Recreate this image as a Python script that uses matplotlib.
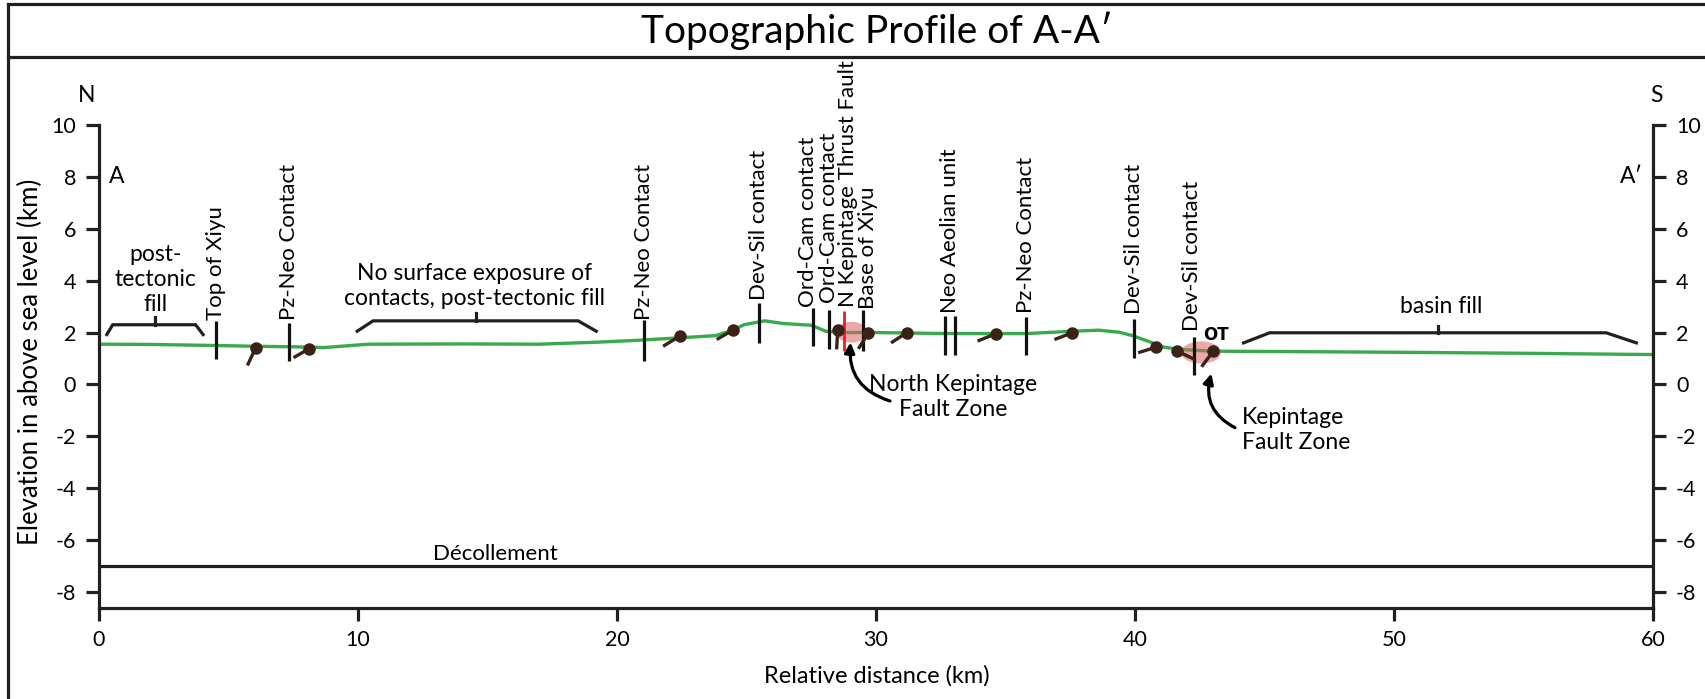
import matplotlib
matplotlib.use("Agg")
import matplotlib.pyplot as plt
from matplotlib.patches import Ellipse
from matplotlib.lines import Line2D

plt.rcParams['font.family'] = ['Lato', 'DejaVu Sans']
plt.rcParams['axes.unicode_minus'] = False

# ---------------- data ----------------
profile_x = [0, 2, 4.5, 6, 7.5, 8.7, 10.4, 14, 17, 19.3, 20.8, 22.5, 23.8, 24.5, 24.9,
             25.7, 26.4, 27.0, 27.5, 28.06, 28.7, 29.9, 32.7, 35.8, 37.6, 38.6, 39.4,
             39.9, 40.6, 41.1, 41.7, 43.0, 45, 50, 55, 60]
profile_y = [1.55, 1.54, 1.5, 1.47, 1.45, 1.42, 1.55, 1.56, 1.55, 1.63, 1.7, 1.8, 1.88, 2.1, 2.3,
             2.45, 2.35, 2.31, 2.28, 2.05, 2.0, 2.0, 1.96, 1.96, 2.05, 2.09, 2.01,
             1.88, 1.63, 1.44, 1.35, 1.28, 1.27, 1.24, 1.2, 1.15]

contact_x = [4.52, 7.33, 21.04, 25.47, 27.55, 28.2, 29.49, 32.67, 33.05, 35.8, 39.96, 42.29]
contact_top = [2.43, 2.37, 2.5, 3.15, 2.95, 2.86, 2.88, 2.63, 2.63, 2.58, 2.53, 1.83]
contact_bot = [0.96, 0.9, 0.9, 1.6, 1.47, 1.35, 1.28, 1.12, 1.12, 1.12, 1.03, 0.35]

fault_x = [28.77]
fault_top = [2.82]
fault_bot = [1.28]

label_text = ["Top of Xiyu", "Pz-Neo Contact", "Pz-Neo Contact", "Dev-Sil contact",
              "Ord-Cam contact", "Ord-Cam contact", "N Kepintage Thrust Fault",
              "Base of Xiyu", "Neo Aeolian unit", "Pz-Neo Contact",
              "Dev-Sil contact", "Dev-Sil contact"]
label_x = [4.52, 7.33, 21.04, 25.47, 27.38, 28.2, 28.9, 29.7, 32.86, 35.8, 39.96, 42.2]
label_y = [2.5, 2.5, 2.5, 3.27, 3.0, 3.15, 3.0, 2.9, 2.76, 2.77, 2.7, 2.05]

ball_x = [6.05, 8.1, 22.42, 24.47, 28.52, 29.7, 31.18, 34.62, 37.58, 40.83, 41.64, 43.02]
ball_y = [1.41, 1.37, 1.86, 2.09, 2.08, 1.99, 1.99, 1.95, 1.99, 1.44, 1.28, 1.28]
tail_x = [5.73, 7.51, 21.78, 23.85, 28.48, 29.32, 30.58, 33.92, 36.89, 40.12, 42.31, 42.57]
tail_y = [0.73, 1.03, 1.47, 1.73, 1.35, 1.37, 1.6, 1.67, 1.73, 1.22, 0.96, 0.68]

zone_x = [29.06, 42.55]
zone_y = [2.01, 1.23]
zone_w = [1.2, 1.55]
zone_h = [0.8, 0.85]

bracket_xs = [[0.3, 0.53, 3.73, 4.02], [9.97, 10.58, 18.5, 19.2], [44.19, 45.2, 58.19, 59.36]]
bracket_ys = [[1.92, 2.3, 2.3, 1.92], [2.05, 2.45, 2.45, 2.05], [1.6, 1.99, 1.99, 1.6]]
bracket_tick_x = [2.18, 14.54, 51.7]
bracket_tick_top = [2.6, 2.76, 2.24]
bracket_text = ["post-\ntectonic\nfill", "No surface exposure of\ncontacts, post-tectonic fill", "basin fill"]
bracket_text_x = [2.18, 14.5, 51.83]
bracket_text_y = [4.04, 3.8, 2.99]

decollement_y = -7

xticks = [0, 10, 20, 30, 40, 50, 60]
yticks = [-8, -6, -4, -2, 0, 2, 4, 6, 8, 10]

# ---------------- figure ----------------
W, H = 1705, 699
fig = plt.figure(figsize=(W / 100, H / 100), dpi=100)
ax = fig.add_axes([99 / W, 91 / H, (1653 - 99) / W, (608 - 125) / H])
ax.set_xlim(0, 60)
ax.set_ylim(-8.62, 10)

for s in ['left', 'right', 'bottom']:
    ax.spines[s].set_linewidth(2.3)
    ax.spines[s].set_color('#231f20')
ax.spines['top'].set_visible(False)
ax.set_xticks(xticks)
ax.set_yticks(yticks)
ax.tick_params(axis='both', direction='out', length=9.5, width=2.3, color='#231f20',
               labelsize=15.5, pad=6)
ax.tick_params(axis='y', right=True, labelright=True, pad=7)

green = '#39aa4c'
ax.plot(profile_x, profile_y, color=green, lw=2.4, zorder=2, solid_capstyle='butt')

ax.axhline(decollement_y, color='#231f20', lw=2.3, zorder=2)
ax.text(15.3, -6.93, "Décollement", ha='center', va='bottom', fontsize=16)

for x, t, b in zip(contact_x, contact_top, contact_bot):
    ax.plot([x, x], [b, t], color='#111111', lw=2.3, zorder=4, solid_capstyle='butt')
for x, t, b in zip(fault_x, fault_top, fault_bot):
    ax.plot([x, x], [b, t], color='#ec1c24', lw=2.0, zorder=4, solid_capstyle='butt')

for txt, x, y in zip(label_text, label_x, label_y):
    ax.text(x, y, txt, rotation=90, ha='center', va='bottom', fontsize=16,
            clip_on=False, zorder=6)

for x, y, w, h in zip(zone_x, zone_y, zone_w, zone_h):
    ax.add_patch(Ellipse((x, y), w, h, facecolor=(0.85, 0.38, 0.38), alpha=0.55,
                         edgecolor='none', zorder=3))

brown = '#3b2216'
for bx, by, tx, ty in zip(ball_x, ball_y, tail_x, tail_y):
    ax.plot([tx, bx], [ty, by], color=brown, lw=2.4, zorder=5, solid_capstyle='butt')
ax.plot(ball_x, ball_y, 'o', color=brown, ms=9, zorder=5, markeredgewidth=0)

for xs, ys, tx, tt, txt, lx, ly in zip(bracket_xs, bracket_ys, bracket_tick_x,
                                       bracket_tick_top, bracket_text,
                                       bracket_text_x, bracket_text_y):
    ax.plot(xs, ys, color='#231f20', lw=2.3, zorder=3, solid_joinstyle='miter')
    ax.plot([tx, tx], [ys[1], tt], color='#231f20', lw=2.3, zorder=3)
    ax.text(lx, ly, txt, ha='center', va='center', fontsize=16.5, linespacing=1.25)

ax.text(43.11, 1.9, "OT", ha='center', va='center', fontsize=12, fontweight='bold',
        family='DejaVu Sans', zorder=6)

ax.text(32.99, -0.48, "North Kepintage\nFault Zone", ha='center', va='center',
        fontsize=16.5, linespacing=1.25)
ax.text(44.13, -1.77, "Kepintage\nFault Zone", ha='left', va='center',
        fontsize=16.5, linespacing=1.25)

ax.annotate('', xy=(29.02, 1.62), xytext=(30.54, -0.64),
            arrowprops=dict(arrowstyle='-|>,head_length=0.6,head_width=0.3',
                            connectionstyle='arc3,rad=-0.4', lw=2.3, color='black',
                            shrinkA=0, shrinkB=0))
ax.annotate('', xy=(42.95, 0.42), xytext=(43.86, -1.67),
            arrowprops=dict(arrowstyle='-|>,head_length=0.6,head_width=0.3',
                            connectionstyle='arc3,rad=-0.4', lw=2.3, color='black',
                            shrinkA=0, shrinkB=0))

ax.text(0.39, 8.0, "A", ha='left', va='center', fontsize=16.5)
ax.text(59.6, 8.0, "A′", ha='right', va='center', fontsize=16.5)
ax.text(-0.46, 11.15, "N", ha='center', va='center', fontsize=16.5, clip_on=False)
ax.text(60.14, 11.15, "S", ha='center', va='center', fontsize=16.5, clip_on=False)

fig.text(877 / W, 1 - 676 / H, "Relative distance (km)", ha='center', va='center', fontsize=17)
fig.text(30 / W, 1 - 362 / H, "Elevation in above sea level (km)", ha='center', va='center',
         rotation=90, fontsize=18.5)
fig.text(877 / W, 1 - 31 / H, "Topographic Profile of A-A′", ha='center', va='center',
         fontsize=28)

# frame lines
lx = 7.5 / W
fig.add_artist(Line2D([lx, lx], [0, 1 - 4 / H], transform=fig.transFigure, color='#231f20', lw=2.3))
fig.add_artist(Line2D([lx, 1], [1 - 4 / H, 1 - 4 / H], transform=fig.transFigure, color='#231f20', lw=2.3))
fig.add_artist(Line2D([lx, 1], [1 - 57 / H, 1 - 57 / H], transform=fig.transFigure, color='#231f20', lw=2.3))

fig.savefig("out.png", dpi=100)
